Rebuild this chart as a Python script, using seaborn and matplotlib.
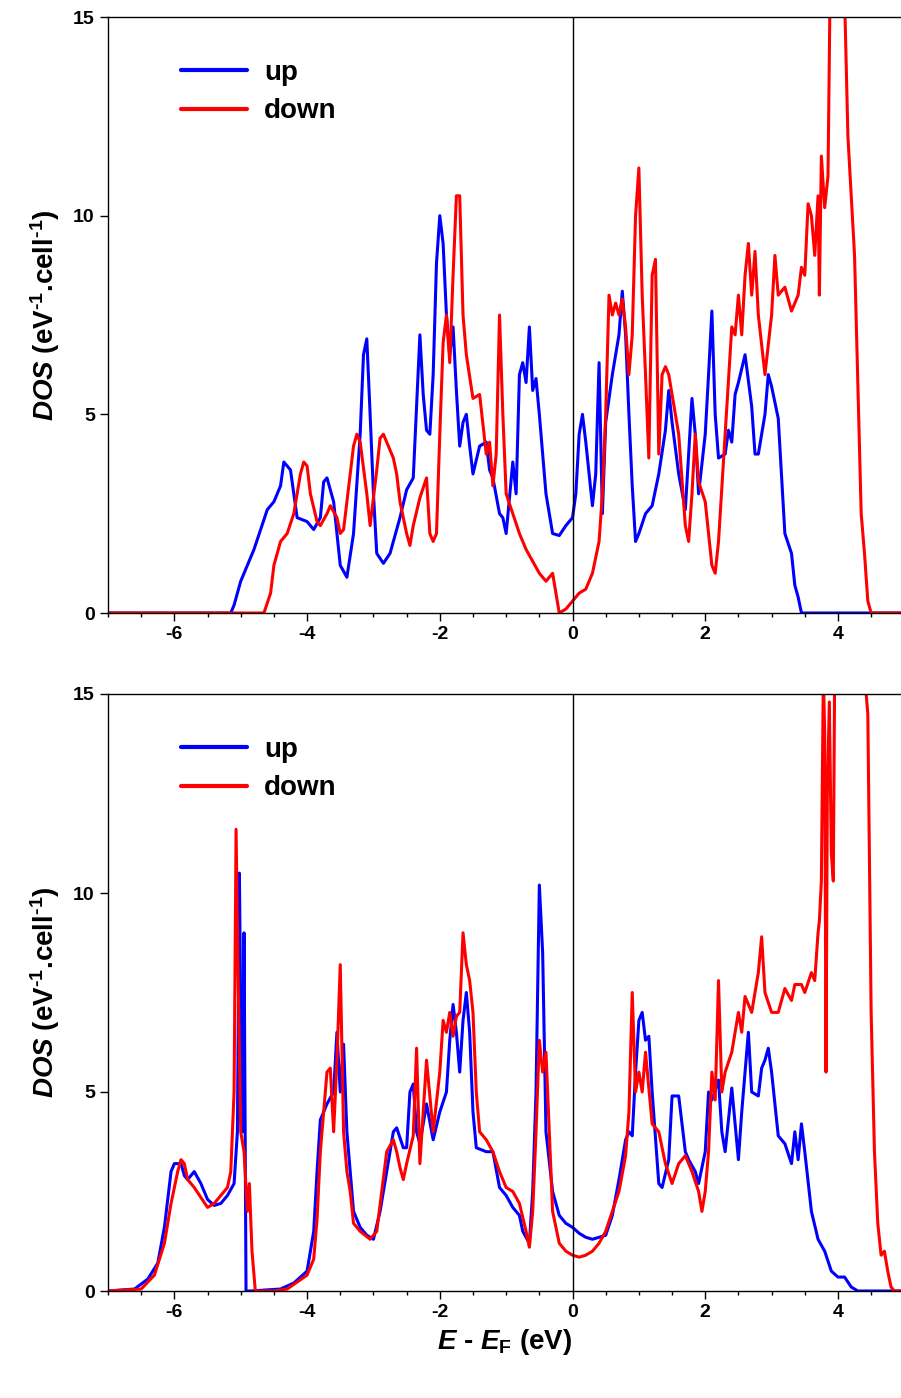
import numpy as np
import pandas as pd
import matplotlib
matplotlib.use('Agg')
import matplotlib.pyplot as plt
import seaborn as sns
from matplotlib.ticker import MultipleLocator

# top panel, spin up
top_up_e = [-7, -5.15, -5.1, -5.0, -4.8, -4.6, -4.5, -4.4, -4.35, -4.25, -4.15, -4.0, -3.9, -3.8, -3.75, -3.7, -3.6, -3.5, -3.4,
            -3.3, -3.2, -3.15, -3.1, -3.05, -3.0, -2.95, -2.85, -2.75, -2.6, -2.5, -2.4, -2.35, -2.3, -2.25, -2.2, -2.15, -2.1,
            -2.05, -2.0, -1.95, -1.9, -1.85, -1.8, -1.75, -1.7, -1.65, -1.6, -1.55, -1.5, -1.4, -1.3, -1.25, -1.2, -1.1, -1.05,
            -1.0, -0.9, -0.85, -0.8, -0.75, -0.7, -0.65, -0.6, -0.55, -0.5, -0.4, -0.3, -0.2, -0.1, 0.0, 0.05, 0.1, 0.15, 0.2,
            0.3, 0.35, 0.4, 0.45, 0.5, 0.6, 0.7, 0.75, 0.8, 0.85, 0.9, 0.95, 1.0, 1.1, 1.2, 1.3, 1.4, 1.45, 1.5, 1.6, 1.7, 1.8,
            1.85, 1.9, 2.0, 2.05, 2.1, 2.15, 2.2, 2.3, 2.35, 2.4, 2.45, 2.5, 2.6, 2.7, 2.75, 2.8, 2.9, 2.95, 3.0, 3.1, 3.2, 3.3,
            3.35, 3.4, 3.45, 5]
top_up_d = [0, 0, 0.2, 0.8, 1.6, 2.6, 2.8, 3.2, 3.8, 3.6, 2.4, 2.3, 2.1, 2.4, 3.3, 3.4, 2.8, 1.2, 0.9,
            2.0, 4.5, 6.5, 6.9, 5.0, 3.0, 1.5, 1.25, 1.5, 2.4, 3.1, 3.4, 5.2, 7.0, 5.5, 4.6, 4.5, 6.0,
            8.8, 10.0, 9.3, 7.5, 6.5, 7.2, 5.6, 4.2, 4.8, 5.0, 4.2, 3.5, 4.2, 4.3, 3.6, 3.4, 2.5, 2.4,
            2.0, 3.8, 3.0, 6.0, 6.3, 5.8, 7.2, 5.6, 5.9, 5.0, 3.0, 2.0, 1.95, 2.2, 2.4, 3.0, 4.5, 5.0, 4.3,
            2.7, 3.5, 6.3, 2.5, 4.8, 6.0, 7.0, 8.1, 7.0, 5.0, 3.2, 1.8, 2.0, 2.5, 2.7, 3.5, 4.6, 5.6, 4.8, 3.5, 2.6, 5.4,
            4.5, 3.0, 4.5, 6.0, 7.6, 5.0, 3.9, 4.0, 4.6, 4.3, 5.5, 5.8, 6.5, 5.2, 4.0, 4.0, 5.0, 6.0, 5.7, 4.9, 2.0, 1.5,
            0.7, 0.4, 0.0, 0]

# top panel, spin down
top_dn_e = [-7, -4.65, -4.55, -4.5, -4.4, -4.3, -4.2, -4.1, -4.05, -4.0, -3.95, -3.85, -3.8, -3.7, -3.65, -3.55, -3.5, -3.45,
            -3.35, -3.3, -3.25, -3.2, -3.1, -3.05, -2.95, -2.9, -2.85, -2.8, -2.75, -2.7, -2.65, -2.6, -2.5, -2.45, -2.4, -2.3,
            -2.2, -2.15, -2.1, -2.05, -2.0, -1.95, -1.9, -1.85, -1.8, -1.75, -1.7, -1.65, -1.6, -1.5, -1.4, -1.3, -1.25, -1.2,
            -1.15, -1.1, -1.05, -1.0, -0.9, -0.8, -0.7, -0.6, -0.5, -0.4, -0.3, -0.25, -0.2, -0.1, 0.0, 0.1, 0.2, 0.3, 0.4,
            0.45, 0.5, 0.55, 0.6, 0.65, 0.7, 0.75, 0.8, 0.85, 0.9, 0.95, 1.0, 1.05, 1.1, 1.15, 1.2, 1.25, 1.3, 1.35, 1.4, 1.45,
            1.5, 1.6, 1.7, 1.75, 1.8, 1.85, 1.9, 2.0, 2.1, 2.15, 2.2, 2.3, 2.4, 2.45, 2.5, 2.55, 2.6, 2.65, 2.7, 2.75, 2.8,
            2.9, 3.0, 3.05, 3.1, 3.2, 3.3, 3.4, 3.45, 3.5, 3.55, 3.6, 3.65, 3.7, 3.72, 3.75, 3.8, 3.85, 3.88, 3.95, 4.1, 4.15,
            4.25, 4.35, 4.4, 4.45, 4.5, 5]
top_dn_d = [0, 0, 0.5, 1.2, 1.8, 2.0, 2.5, 3.5, 3.8, 3.7, 3.0, 2.3, 2.2, 2.5, 2.7, 2.4, 2.0, 2.1,
            3.5, 4.2, 4.5, 4.3, 3.0, 2.2, 3.6, 4.4, 4.5, 4.3, 4.1, 3.9, 3.5, 2.8, 2.0, 1.7, 2.2, 2.9,
            3.4, 2.0, 1.8, 2.0, 4.5, 6.8, 7.5, 6.3, 8.5, 10.5, 10.5, 7.5, 6.5, 5.4, 5.5, 4.0, 4.3, 3.2,
            4.0, 7.5, 5.0, 3.0, 2.5, 2.0, 1.6, 1.3, 1.0, 0.8, 1.0, 0.5, 0.0, 0.1, 0.3, 0.5, 0.6, 1.0, 1.8,
            3.0, 5.0, 8.0, 7.5, 7.8, 7.5, 7.9, 7.2, 6.0, 7.0, 10.0, 11.2, 8.0, 6.0, 3.9, 8.5, 8.9, 4.0, 6.0, 6.2, 6.0,
            5.5, 4.5, 2.2, 1.8, 3.0, 4.5, 3.3, 2.8, 1.2, 1.0, 1.8, 4.5, 7.2, 7.0, 8.0, 7.0, 8.5, 9.3, 8.0, 9.1, 7.5,
            6.0, 7.5, 9.0, 8.0, 8.2, 7.6, 8.0, 8.7, 8.5, 10.3, 10.0, 9.0, 10.5, 8.0, 11.5, 10.2, 11.0, 15.5, 15.5, 15.5, 12.0,
            9.0, 2.5, 1.5, 0.3, 0.0, 0]

# bottom panel, spin up
bot_up_e = [-7, -6.6, -6.4, -6.25, -6.15, -6.1, -6.05, -6.0, -5.9, -5.85, -5.8, -5.7, -5.6, -5.5, -5.4, -5.3, -5.2, -5.1,
            -5.05, -5.02, -5.0, -4.97, -4.95, -4.92, -4.85, -4.4, -4.2, -4.0, -3.9, -3.85, -3.8, -3.7, -3.6, -3.55, -3.5,
            -3.45, -3.4, -3.35, -3.3, -3.2, -3.1, -3.0, -2.9, -2.8, -2.7, -2.65, -2.55, -2.5, -2.45, -2.4, -2.35, -2.3, -2.2,
            -2.1, -2.0, -1.9, -1.85, -1.8, -1.75, -1.7, -1.65, -1.6, -1.55, -1.5, -1.45, -1.3, -1.2, -1.1, -1.0, -0.9, -0.8,
            -0.75, -0.65, -0.6, -0.55, -0.5, -0.45, -0.4, -0.3, -0.2, -0.1, 0.0, 0.1, 0.2, 0.3, 0.5, 0.6, 0.7, 0.8, 0.85,
            0.9, 0.95, 1.0, 1.05, 1.1, 1.15, 1.2, 1.3, 1.35, 1.45, 1.5, 1.6, 1.65, 1.7, 1.75, 1.85, 1.9, 2.0, 2.05, 2.1, 2.2,
            2.25, 2.3, 2.4, 2.5, 2.55, 2.65, 2.7, 2.8, 2.85, 2.9, 2.95, 3.0, 3.05, 3.1, 3.2, 3.3, 3.35, 3.4, 3.45, 3.5, 3.6,
            3.7, 3.8, 3.9, 4.0, 4.1, 4.2, 4.3, 5]
bot_up_d = [0, 0.05, 0.3, 0.7, 1.6, 2.3, 3.0, 3.2, 3.2, 2.9, 2.8, 3.0, 2.7, 2.3, 2.15, 2.2, 2.4, 2.7,
            4.0, 10.5, 7.0, 4.0, 9.0, 0.0, 0, 0.05, 0.2, 0.5, 1.5, 3.0, 4.3, 4.7, 5.0, 6.5, 5.0,
            6.2, 4.0, 3.0, 2.0, 1.6, 1.4, 1.3, 2.0, 3.0, 4.0, 4.1, 3.6, 3.6, 5.0, 5.2, 4.0, 3.7, 4.7,
            3.8, 4.5, 5.0, 6.3, 7.2, 6.5, 5.5, 6.8, 7.5, 6.5, 4.5, 3.6, 3.5, 3.5, 2.6, 2.4, 2.1, 1.9,
            1.5, 1.2, 2.5, 5.0, 10.2, 8.5, 4.0, 2.5, 1.9, 1.7, 1.6, 1.45, 1.35, 1.3, 1.4, 1.9, 2.8, 3.8, 4.0,
            3.9, 5.5, 6.8, 7.0, 6.3, 6.4, 5.0, 2.7, 2.6, 3.3, 4.9, 4.9, 4.2, 3.5, 3.3, 3.0, 2.7, 3.5, 5.0, 4.8, 5.3,
            4.0, 3.5, 5.1, 3.3, 4.5, 6.5, 5.0, 4.9, 5.6, 5.8, 6.1, 5.5, 4.7, 3.9, 3.7, 3.2, 4.0, 3.3, 4.2, 3.5, 2.0,
            1.3, 1.0, 0.5, 0.35, 0.35, 0.1, 0.0, 0]

# bottom panel, spin down
bot_dn_e = [-7, -6.5, -6.3, -6.15, -6.05, -5.95, -5.9, -5.85, -5.8, -5.7, -5.5, -5.4, -5.3, -5.2, -5.15, -5.1, -5.07, -5.04,
            -5.0, -4.95, -4.9, -4.87, -4.83, -4.78, -4.5, -4.3, -4.0, -3.9, -3.85, -3.8, -3.7, -3.65, -3.6, -3.55, -3.5, -3.45,
            -3.4, -3.35, -3.3, -3.2, -3.05, -2.95, -2.8, -2.7, -2.65, -2.6, -2.55, -2.5, -2.4, -2.35, -2.3, -2.25, -2.2, -2.1,
            -2.0, -1.95, -1.9, -1.85, -1.8, -1.75, -1.7, -1.65, -1.6, -1.55, -1.5, -1.45, -1.4, -1.3, -1.2, -1.1, -1.0, -0.9,
            -0.8, -0.7, -0.65, -0.6, -0.55, -0.5, -0.45, -0.4, -0.35, -0.3, -0.2, -0.1, 0.0, 0.1, 0.2, 0.3, 0.4, 0.5, 0.6,
            0.7, 0.8, 0.85, 0.9, 0.95, 1.0, 1.05, 1.1, 1.2, 1.3, 1.4, 1.5, 1.6, 1.7, 1.8, 1.9, 1.95, 2.0, 2.05, 2.1, 2.15,
            2.2, 2.25, 2.3, 2.4, 2.5, 2.55, 2.6, 2.7, 2.8, 2.85, 2.9, 3.0, 3.1, 3.2, 3.3, 3.35, 3.45, 3.5, 3.6, 3.65, 3.7,
            3.72, 3.75, 3.78, 3.8, 3.82, 3.84, 3.87, 3.9, 3.93, 3.95, 4.4, 4.45, 4.5, 4.55, 4.6, 4.65, 4.7, 4.75, 4.8, 4.85, 5]
bot_dn_d = [0, 0.05, 0.4, 1.2, 2.2, 3.0, 3.3, 3.2, 2.8, 2.6, 2.1, 2.2, 2.4, 2.6, 3.0, 5.0, 11.6, 8.0,
            4.0, 3.5, 2.0, 2.7, 1.0, 0.0, 0, 0.05, 0.4, 0.8, 1.8, 3.5, 5.5, 5.6, 4.0, 5.8, 8.2, 4.0,
            3.0, 2.5, 1.7, 1.5, 1.3, 1.5, 3.5, 3.8, 3.5, 3.1, 2.8, 3.2, 3.9, 6.1, 3.2, 4.5, 5.8, 4.0,
            5.5, 6.8, 6.5, 7.0, 6.4, 6.9, 7.0, 9.0, 8.2, 7.8, 7.0, 5.0, 4.0, 3.8, 3.5, 3.0, 2.6, 2.5,
            2.2, 1.5, 1.1, 2.0, 4.0, 6.3, 5.5, 6.0, 4.0, 2.0, 1.2, 1.0, 0.9, 0.85, 0.9, 1.0, 1.2, 1.5, 2.0,
            2.5, 3.4, 4.5, 7.5, 5.0, 5.5, 5.0, 6.0, 4.2, 4.0, 3.2, 2.7, 3.2, 3.4, 3.0, 2.5, 2.0, 2.5, 3.5, 5.5, 4.8,
            7.8, 5.0, 5.5, 6.0, 7.0, 6.5, 7.4, 7.0, 8.0, 8.9, 7.5, 7.0, 7.0, 7.6, 7.3, 7.7, 7.7, 7.5, 8.0, 7.8, 9.0,
            9.3, 10.3, 15.5, 14.0, 5.5, 12.5, 14.8, 11.0, 10.3, 15.5, 15.5, 14.5, 7.0, 3.5, 1.7, 0.9, 1.0, 0.5, 0.1, 0.0, 0]

sns.set_style('white')
plt.rcParams['font.family'] = ['Liberation Sans', 'DejaVu Sans']
plt.rcParams['text.color'] = 'black'
plt.rcParams['axes.labelcolor'] = 'black'
plt.rcParams['xtick.color'] = 'black'
plt.rcParams['ytick.color'] = 'black'
plt.rcParams['mathtext.fontset'] = 'custom'
plt.rcParams['mathtext.rm'] = 'Liberation Sans:bold'
plt.rcParams['mathtext.it'] = 'Liberation Sans:italic:bold'
plt.rcParams['mathtext.bf'] = 'Liberation Sans:bold'

fig = plt.figure(figsize=(9.01, 13.98), dpi=100)
W, H = 901, 1398
ax_top = fig.add_axes([108 / W, (H - 613) / H, 793 / W, 596 / H])
ax_bot = fig.add_axes([108 / W, (H - 1291) / H, 793 / W, 597 / H])

panels = [(ax_top, top_up_e, top_up_d, top_dn_e, top_dn_d),
          (ax_bot, bot_up_e, bot_up_d, bot_dn_e, bot_dn_d)]

for ax, ue, ud, de, dd in panels:
    df = pd.concat([pd.DataFrame({'E': ue, 'DOS': ud, 'spin': 'up'}),
                    pd.DataFrame({'E': de, 'DOS': dd, 'spin': 'down'})])
    sns.lineplot(data=df, x='E', y='DOS', hue='spin', palette={'up': '#0000ff', 'down': '#ff0000'},
                 sort=False, estimator=None, lw=2.2, ax=ax)
    ax.axvline(0, color='black', lw=1)
    ax.set_xlim(-7, 4.95)
    ax.set_ylim(0, 15)
    ax.xaxis.set_minor_locator(MultipleLocator(0.5))
    ax.tick_params(axis='both', which='major', direction='out', length=6, width=1,
                   labelsize=14, bottom=True, left=True)
    ax.tick_params(axis='x', which='minor', direction='out', length=3, width=1, bottom=True)
    ax.set_xticks([-6, -4, -2, 0, 2, 4])
    ax.set_xticklabels(['-6', '-4', '-2', '0', '2', '4'], fontweight='bold', fontsize=14)
    ax.set_yticks([0, 5, 10, 15])
    ax.set_yticklabels(['0', '5', '10', '15'], fontweight='bold', fontsize=14)
    ax.spines['right'].set_visible(False)
    for s in ['top', 'left', 'bottom']:
        ax.spines[s].set_color('black')
        ax.spines[s].set_linewidth(1)
    ax.set_ylabel(r'$\mathit{DOS}$ (eV$^{\text{-1}}$.cell$^{\text{-1}}$)', fontsize=20, fontweight='bold', labelpad=8)
    ax.set_xlabel('')
    leg = ax.legend(loc='upper left', bbox_to_anchor=(0.06, 0.97), frameon=False, handlelength=2.4,
                    handletextpad=0.6, prop={'size': 20, 'weight': 'bold'}, labelspacing=0.45)
    for line in leg.get_lines():
        line.set_linewidth(3)
    for t in leg.get_texts():
        t.set_color('black')

ax_bot.set_xlabel(r'$\mathit{E}$ - $\mathit{E}_{\mathrm{F}}$ (eV)', fontsize=20, fontweight='bold', labelpad=4)

fig.savefig('out.png', dpi=100)
